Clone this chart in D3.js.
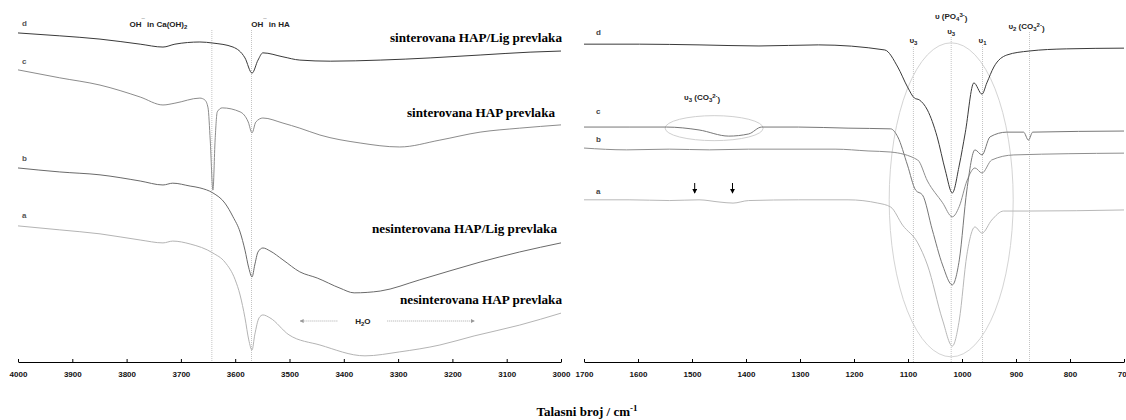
<!DOCTYPE html>
<html><head><meta charset="utf-8">
<script src="https://cdn.jsdelivr.net/npm/d3@7"></script>
<style>
html,body{margin:0;padding:0;background:#fff;}
svg{display:block;}
</style></head>
<body>
<svg id="chart" width="1126" height="420"></svg>
<script>
// ---------- DATA (wavenumber cm^-1, relative transmittance) ----------
const leftTicks = [4000,3900,3800,3700,3600,3500,3400,3300,3200,3100,3000];
const rightTicks = [1700,1600,1500,1400,1300,1200,1100,1000,900,800,700];

// Left panel (4000-3000 cm-1)
const leftD = [[4000,90.9],[3923,90.1],[3849,89.2],[3775,87.8],[3733,87.0],[3711,87.8],[3665,88.4],[3641,88.1],[3604,87.0],[3582,84.0],[3569,79.8],[3558,83.4],[3549,85.4],[3512,84.3],[3481,83.4],[3425,83.1],[3333,83.4],[3241,84.0],[3149,84.8],[3057,85.6],[3000,85.9]];
const leftC = [[4000,80.7],[3923,78.5],[3849,76.5],[3775,73.2],[3733,71.0],[3711,71.5],[3665,72.9],[3656,72.4],[3650,70.2],[3646,61.3],[3641,47.5],[3637,61.3],[3633,69.1],[3624,70.2],[3591,69.1],[3576,66.3],[3569,63.3],[3562,66.3],[3549,67.4],[3512,66.0],[3481,64.6],[3444,62.7],[3370,60.5],[3297,59.4],[3223,61.3],[3149,63.5],[3076,64.6],[3000,65.5]];
const leftB = [[4000,53.6],[3923,52.5],[3849,51.7],[3775,50.0],[3733,48.9],[3715,49.4],[3683,48.6],[3665,48.1],[3641,46.7],[3619,43.9],[3604,40.1],[3591,35.9],[3582,30.9],[3575,26.0],[3569,23.5],[3564,26.8],[3558,30.4],[3549,31.5],[3536,30.7],[3512,28.2],[3481,24.9],[3449,23.2],[3407,20.4],[3381,19.1],[3333,19.6],[3260,22.7],[3149,27.6],[3076,30.4],[3000,32.9]];
const leftA = [[4000,37.6],[3923,36.5],[3849,35.4],[3775,33.7],[3733,32.9],[3715,33.4],[3683,32.6],[3641,30.1],[3619,27.6],[3600,22.7],[3591,18.5],[3582,12.2],[3575,6.1],[3569,3.3],[3564,7.5],[3556,12.2],[3549,13.0],[3536,12.2],[3501,7.5],[3444,4.7],[3361,1.7],[3297,2.8],[3223,4.7],[3160,7.2],[3076,10.2],[3000,13.5]];

// Right panel (1700-700 cm-1)
const rightD = [[1700,87.8],[1597,87.8],[1487,87.6],[1376,87.3],[1266,87.6],[1143,86.2],[1119,81.5],[1101,76.0],[1088,72.9],[1079,72.4],[1064,69.6],[1046,62.2],[1031,53.0],[1018,46.7],[1005,54.4],[994,63.3],[978,77.1],[963,74.0],[954,77.1],[941,81.5],[917,84.8],[876,85.9],[807,86.5],[700,86.7]];
const rightC = [[1700,64.9],[1615,64.9],[1547,64.9],[1487,64.1],[1432,62.4],[1395,63.0],[1371,64.9],[1303,64.9],[1211,64.6],[1132,64.4],[1119,62.2],[1101,54.4],[1086,47.5],[1073,46.1],[1055,36.5],[1036,26.8],[1018,21.3],[1005,28.2],[991,47.5],[976,58.6],[963,57.2],[948,62.2],[917,63.5],[886,63.5],[877,61.3],[869,63.5],[700,63.8]];
const rightB = [[1700,59.1],[1621,58.6],[1542,58.8],[1468,58.6],[1395,58.8],[1235,58.8],[1174,58.3],[1132,58.0],[1082,55.8],[1064,50.0],[1036,44.0],[1018,40.1],[1005,43.0],[991,50.0],[976,53.6],[963,52.2],[945,55.8],[904,57.2],[700,57.7]];
const rightA = [[1700,44.8],[1615,44.8],[1542,44.6],[1487,44.8],[1450,44.2],[1424,43.9],[1395,44.6],[1303,44.8],[1211,44.8],[1156,43.9],[1132,42.8],[1110,37.8],[1082,32.9],[1064,26.8],[1036,11.6],[1018,4.4],[1005,11.6],[991,29.6],[976,37.3],[963,35.6],[945,39.2],[923,41.7],[877,41.7],[700,42.0]];

const leftBands = [3643, 3570];
const rightBands = [1090, 1020, 962, 875];
const arrowBands = [1495, 1425];
const waterRange = [3480, 3160];
const sampleNames = ["sinterovana HAP/Lig prevlaka","sinterovana HAP prevlaka","nesinterovana HAP/Lig prevlaka","nesinterovana HAP prevlaka"];
const letters = ["d","c","b","a"];
const xTitle = "Talasni broj / cm";

// ---------- LAYOUT ----------
const svg = d3.select("#chart");
const yAxisPix = 362;
const y = d3.scaleLinear().domain([0,100]).range([yAxisPix, 0]);
const xL = d3.scaleLinear().domain([4000,3000]).range([18,561]);
const xR = d3.scaleLinear().domain([1700,700]).range([584,1124]);

const colors = {d:"#3a3a3a", c:"#8c8c8c", b:"#6a6a6a", a:"#b4b4b4"};
const colorsR = {d:"#3a3a3a", c:"#777777", b:"#8e8e8e", a:"#b8b8b8"};

// band lines
function vline(x, w, yTop){
  svg.append("line").attr("x1",x(w)).attr("x2",x(w)).attr("y1",yTop).attr("y2",yAxisPix)
    .attr("stroke","#c4c4c4").attr("stroke-width",1).attr("stroke-dasharray","1,1");
}
vline(xL, leftBands[0], 30); vline(xL, leftBands[1], 30);
const rTops = [47,37,45,32];
rightBands.forEach((w,i)=>vline(xR,w,rTops[i]));

// ellipses
svg.append("ellipse").attr("cx", xR(1020)).attr("cy", y(44.8)).attr("rx",62).attr("ry",157)
  .attr("fill","none").attr("stroke","#d4d4d4").attr("stroke-width",1);
svg.append("ellipse").attr("cx", xR(1459)).attr("cy", y(64.6)).attr("rx",49).attr("ry",12.5)
  .attr("fill","none").attr("stroke","#d0d0d0").attr("stroke-width",1);

// curves
function drawCurve(x, data, col){
  const line = d3.line().x(d=>x(d[0])).y(d=>y(d[1])).curve(d3.curveMonotoneX);
  svg.append("path").datum(data).attr("d",line).attr("fill","none")
    .attr("stroke",col).attr("stroke-width",1);
}
drawCurve(xL, leftA, colors.a); drawCurve(xL, leftB, colors.b);
drawCurve(xL, leftC, colors.c); drawCurve(xL, leftD, colors.d);
drawCurve(xR, rightA, colorsR.a); drawCurve(xR, rightB, colorsR.b);
drawCurve(xR, rightC, colorsR.c); drawCurve(xR, rightD, colorsR.d);

// axes
function drawAxis(x, ticks){
  const ax = d3.axisBottom(x).tickValues(ticks).tickFormat(d3.format("d"))
    .tickSizeInner(-3).tickSizeOuter(0).tickPadding(9);
  const g = svg.append("g").attr("transform",`translate(0,${yAxisPix})`).call(ax);
  g.select(".domain").attr("stroke","#000").attr("stroke-width",1);
  g.selectAll(".tick line").attr("stroke","#000");
  g.selectAll("text").attr("font-family","Liberation Sans, Arial, sans-serif")
    .attr("font-weight","bold").attr("font-size","8px").attr("fill","#111");
}
drawAxis(xL, leftTicks);
drawAxis(xR, rightTicks);

// letter labels
const sans = "Liberation Sans, Arial, sans-serif";
const serif = "Liberation Serif, Times New Roman, serif";
const leftLetterY = [26,64,161,218];
const rightLetterY = [35,114,142,194];
letters.forEach((l,i)=>{
  svg.append("text").attr("x",22).attr("y",leftLetterY[i]).text(l)
    .attr("font-family",sans).attr("font-size","8px").attr("font-weight","bold").attr("fill","#555");
  svg.append("text").attr("x",596).attr("y",rightLetterY[i]).text(l)
    .attr("font-family",sans).attr("font-size","8px").attr("font-weight","bold").attr("fill","#444");
});

// sample names (bold serif)
const nameBox = [[390,562,42],[407,555,117],[372,557,233],[400,562,304]];
sampleNames.forEach((n,i)=>{
  const b = nameBox[i];
  svg.append("text").attr("x",b[0]).attr("y",b[2]).text(n)
    .attr("font-family",serif).attr("font-weight","bold").attr("font-size","13px")
    .attr("textLength", b[1]-b[0]).attr("lengthAdjust","spacingAndGlyphs").attr("fill","#000");
});

// annotations helper
function ann(xp, yp, parts, anchor="middle", size=8){
  const t = svg.append("text").attr("x",xp).attr("y",yp).attr("text-anchor",anchor)
    .attr("font-family",sans).attr("font-weight","bold").attr("font-size",size+"px").attr("fill","#222");
  parts.forEach(p=>{
    const s = t.append("tspan").text(p[0]);
    if(p[1]==="sub"){ s.attr("font-size",(size*0.75)+"px").attr("dy","2"); }
    else if(p[1]==="sup"){ s.attr("font-size",(size*0.75)+"px").attr("dy","-4"); }
    else if(p[1]==="base_from_sub"){ s.attr("dy","-2"); }
    else if(p[1]==="base_from_sup"){ s.attr("dy","4"); }
  });
  return t;
}
ann(xL(3745)+2, 27, [["OH"],["¯","sup"],[" in Ca(OH)","base_from_sup"],["2","sub"]]);
ann(xL(3535), 27, [["OH"],["¯","sup"],[" in HA","base_from_sup"]]);
ann(xR(1020), 19, [["υ (PO"],["4","sub"],["3-","sup"],[")","base_from_sup"]]);
ann(xR(1020), 34, [["υ"],["3","sub"]]);
ann(xR(1090), 43, [["υ"],["3","sub"]]);
ann(xR(962), 43, [["υ"],["1","sub"]]);
ann(xR(875)-3, 29, [["υ"],["2","sub"],[" (CO","base_from_sub"],["3","sub"],["2-","sup"],[")","base_from_sup"]]);
ann(xR(1459)-12, 100, [["υ"],["3","sub"],[" (CO","base_from_sub"],["3","sub"],["2-","sup"],[")","base_from_sup"]]);

// H2O range arrow
const defs = svg.append("defs");
defs.append("marker").attr("id","ah").attr("viewBox","0 0 6 6").attr("refX",5).attr("refY",3)
  .attr("markerWidth",4).attr("markerHeight",4).attr("orient","auto-start-reverse")
  .append("path").attr("d","M0,0 L6,3 L0,6 z").attr("fill","#999");
const hy = 321;
svg.append("line").attr("x1",xL(waterRange[0])).attr("x2",xL(3410)).attr("y1",hy).attr("y2",hy)
  .attr("stroke","#aaa").attr("stroke-dasharray","1,1").attr("marker-start","url(#ah)");
svg.append("line").attr("x1",xL(3320)).attr("x2",xL(waterRange[1])).attr("y1",hy).attr("y2",hy)
  .attr("stroke","#aaa").attr("stroke-dasharray","1,1").attr("marker-end","url(#ah)");
ann(xL(3365), hy+3, [["H"],["2","sub"],["O","base_from_sub"]]);

// small arrows (right panel, curve a)
defs.append("marker").attr("id","ah2").attr("viewBox","0 0 6 6").attr("refX",5).attr("refY",3)
  .attr("markerWidth",5).attr("markerHeight",5).attr("orient","auto")
  .append("path").attr("d","M0,0 L6,3 L0,6 z").attr("fill","#000");
arrowBands.forEach(w=>{
  svg.append("line").attr("x1",xR(w)).attr("x2",xR(w)).attr("y1",183).attr("y2",193)
    .attr("stroke","#000").attr("stroke-width",1).attr("marker-end","url(#ah2)");
});

// x axis title
const tt = svg.append("text").attr("x",587).attr("y",416).attr("text-anchor","middle")
  .attr("font-family",serif).attr("font-weight","bold").attr("font-size","13px").attr("fill","#000");
tt.append("tspan").text(xTitle);
tt.append("tspan").text("-1").attr("font-size","9px").attr("dy","-5");
</script>
</body></html>
